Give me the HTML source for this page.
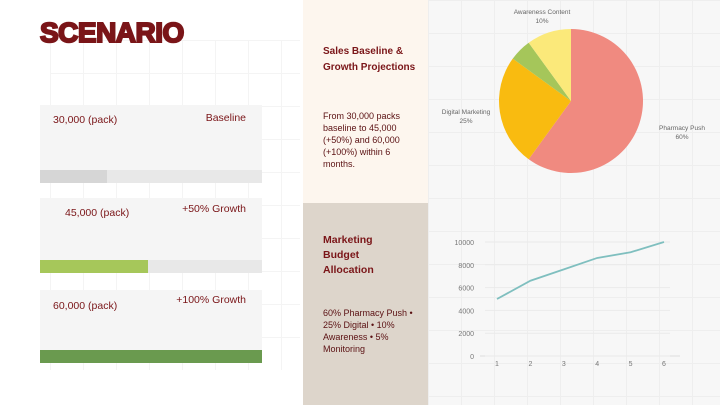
<!DOCTYPE html>
<html><head><meta charset="utf-8"><style>
body{margin:0;width:720px;height:405px;overflow:hidden;background:#fff;font-family:"Liberation Sans",sans-serif;position:relative}
.a{position:absolute}
.t{color:#7a1518;font-size:10.5px}
.grid{background-image:linear-gradient(#eee 1px,transparent 1px),linear-gradient(90deg,#eee 1px,transparent 1px);background-size:33px 33px}
.card{position:absolute;left:40px;width:222px;background:#f5f5f5}
.track{position:absolute;left:0;right:0;bottom:0;height:13px;background:#e8e8e8}
</style></head><body>
<div class="a grid" style="left:50px;top:40px;width:250px;height:330px;opacity:.6"></div>
<div class="a" style="left:40px;top:17px;font-size:28px;font-weight:900;color:#7a1518;letter-spacing:-0.5px;-webkit-text-stroke:2px #7a1518">SCENARIO</div>

<div class="card" style="top:105px;height:78px">
 <div class="a t" style="left:13px;top:9px">30,000 (pack)</div>
 <div class="a t" style="right:16px;top:7px">Baseline</div>
 <div class="track"><div style="width:67px;height:100%;background:#d6d6d6"></div></div>
</div>
<div class="card" style="top:198px;height:75px">
 <div class="a t" style="left:25px;top:9px">45,000 (pack)</div>
 <div class="a t" style="right:16px;top:5px">+50% Growth</div>
 <div class="track"><div style="width:108px;height:100%;background:#a6c75a"></div></div>
</div>
<div class="card" style="top:290px;height:73px">
 <div class="a t" style="left:13px;top:10px">60,000 (pack)</div>
 <div class="a t" style="right:16px;top:4px">+100% Growth</div>
 <div class="track"><div style="width:100%;height:100%;background:#6a9a4f"></div></div>
</div>

<div class="a" style="left:303px;top:0;width:125px;height:203px;background:#fdf6ee">
 <div class="a t" style="left:20px;top:44px;font-weight:bold;font-size:10px;line-height:16px">Sales Baseline &amp;<br>Growth Projections</div>
 <div class="a t" style="left:20px;top:110px;font-size:9px;line-height:12px;width:88px;color:#5a1012">From 30,000 packs baseline to 45,000 (+50%) and 60,000 (+100%) within 6 months.</div>
</div>
<div class="a" style="left:303px;top:203px;width:125px;height:202px;background:#ddd5cb">
 <div class="a t" style="left:20px;top:30px;font-weight:bold;font-size:10.5px;line-height:15px">Marketing<br>Budget<br>Allocation</div>
 <div class="a t" style="left:20px;top:104px;font-size:9px;line-height:12px;width:95px;color:#5a1012">60% Pharmacy Push • 25% Digital • 10% Awareness • 5% Monitoring</div>
</div>
<div class="a grid" style="left:428px;top:0;width:292px;height:405px;background-color:#f7f7f7"></div>

<svg class="a" style="left:0;top:0" width="720" height="405">
<g id="pie"></g>
<g id="line"></g>
</svg>
<script>
const pieLabels=["Pharmacy Push","Digital Marketing","Monitoring","Awareness Content"];
const pieValues=[60,25,5,10];
const pieColors=["#f08a80","#f9bb10","#a5c65a","#fbe97a"];
const lineX=[1,2,3,4,5,6];
const lineY=[5000,6600,7600,8600,9100,10000];
const yTicks=[0,2000,4000,6000,8000,10000];
const NS="http://www.w3.org/2000/svg";
function mk(t,a,p){const e=document.createElementNS(NS,t);for(const k in a)e.setAttribute(k,a[k]);p.appendChild(e);return e;}
const pg=document.getElementById('pie');
const cx=571,cy=101,r=72;let tot=pieValues.reduce((a,b)=>a+b,0),ang=0;
pieValues.forEach((v,i)=>{const a0=ang,a1=ang+v/tot*2*Math.PI;ang=a1;
 const p=(a)=>[cx+r*Math.sin(a),cy-r*Math.cos(a)];const[s0,s1]=p(a0),[e0,e1]=p(a1);
 const el=mk('path',{d:`M${cx},${cy}L${s0},${s1}A${r},${r} 0 ${a1-a0>Math.PI?1:0} 1 ${e0},${e1}Z`,fill:pieColors[i]},pg);
 
 
});
const lbls=[[pieLabels[0]+"",pieValues[0],682,130],[pieLabels[1],pieValues[1],466,114],[pieLabels[3],pieValues[3],542,14]];
lbls.forEach(l=>{[l[0],l[1]+"%"].forEach((s,j)=>{const t=mk('text',{x:l[2],y:l[3]+j*9,'font-size':6.5,fill:'#666','text-anchor':'middle'},pg);t.textContent=s;
 
 });});
const lg=document.getElementById('line');
const xs=v=>497+(v-1)*(664-497)/5, ys=v=>356-v*(356-242)/10000;
mk('line',{x1:480,x2:680,y1:356,y2:356,stroke:'#ddd'},lg);
yTicks.forEach(v=>{mk('line',{x1:485,x2:670,y1:ys(v),y2:ys(v),stroke:'#eaeaea'},lg);
 const t=mk('text',{x:474,y:ys(v)+3,'font-size':7,fill:'#777','text-anchor':'end'},lg);t.textContent=v;
 
 });
lineX.forEach(v=>{const t=mk('text',{x:xs(v),y:366,'font-size':7,fill:'#777','text-anchor':'middle'},lg);t.textContent=v;
 
 });
const pl=mk('polyline',{points:lineX.map((x,i)=>xs(x)+','+ys(lineY[i])).join(' '),fill:'none',stroke:'#7fbfbf','stroke-width':1.8},lg);


</script>
</body></html>
